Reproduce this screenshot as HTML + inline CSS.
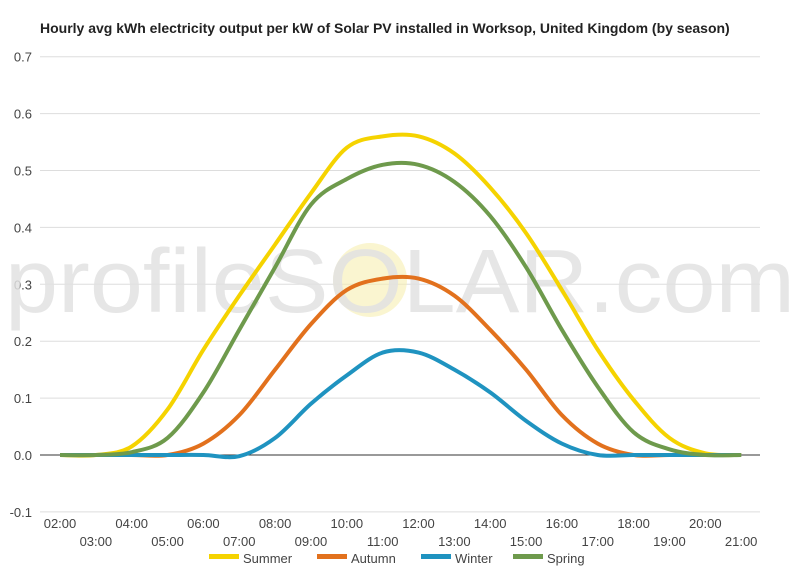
<!DOCTYPE html>
<html><head><meta charset="utf-8"><style>
body{margin:0;background:#fff;font-family:"Liberation Sans",Arial,sans-serif}
svg text{font-family:"Liberation Sans",Arial,sans-serif}
</style></head><body>
<svg id="c" width="800" height="570" xmlns="http://www.w3.org/2000/svg">
<text x="40" y="33" font-size="14" font-weight="bold" fill="#222">Hourly avg kWh electricity output per kW of Solar PV installed in Worksop, United Kingdom (by season)</text>
<g id="grid"></g>
<g>
<circle cx="370" cy="280" r="37" fill="#f7eeb0" opacity="0.6"/>
<text x="5" y="312" font-size="90" fill="#e2e2e2" opacity="0.85" textLength="790" lengthAdjust="spacingAndGlyphs">profileSOLAR.com</text>
</g>
<g id="series"></g>
<g id="xlabels"></g>
<g id="legend"></g>
</svg>
<script>
const hours=["02:00","03:00","04:00","05:00","06:00","07:00","08:00","09:00","10:00","11:00","12:00","13:00","14:00","15:00","16:00","17:00","18:00","19:00","20:00","21:00"];
const yTicks=[0.7,0.6,0.5,0.4,0.3,0.2,0.1,0.0,-0.1];
const summer=[0,0,0.015,0.08,0.185,0.28,0.37,0.46,0.54,0.56,0.56,0.53,0.47,0.39,0.29,0.185,0.097,0.03,0.003,0];
const autumn=[0,0,0,0,0.02,0.07,0.15,0.23,0.29,0.31,0.31,0.28,0.22,0.15,0.07,0.02,0,0,0,0];
const winter=[0,0,0,0,0,-0.002,0.03,0.09,0.14,0.18,0.18,0.15,0.11,0.06,0.02,0,0,0,0,0];
const spring=[0,0,0.005,0.03,0.11,0.22,0.33,0.44,0.485,0.51,0.51,0.48,0.42,0.33,0.22,0.12,0.04,0.01,0,0];
const seriesNames=["Summer","Autumn","Winter","Spring"];
const colors=["#f5d300","#e2711d","#1f93c0","#6e9a4c"];
const allSeries=[summer,autumn,winter,spring];
const ns="http://www.w3.org/2000/svg";
const x=i=>60+i*35.85, y=v=>455-v*569;
function mk(t,a,p){const e=document.createElementNS(ns,t);for(const k in a)e.setAttribute(k,a[k]);p.appendChild(e);return e;}
const grid=document.getElementById('grid');
yTicks.forEach(v=>{
 const l=mk('line',{x1:40,x2:760,y1:y(v),y2:y(v),stroke:v===0?'#333':'#ddd','stroke-width':1},grid);
 
 
 const t=mk('text',{x:32,y:y(v)+5,'font-size':13,fill:'#444','text-anchor':'end'},grid);
 t.textContent=v.toFixed(1);
 
 
});
const xl=document.getElementById('xlabels');
hours.forEach((h,i)=>{
 const t=mk('text',{x:x(i),y:i%2?546:528,'font-size':13,fill:'#444','text-anchor':'middle'},xl);
 t.textContent=h;
 
 
});
function path(d){
 const p=d.map((v,i)=>[x(i),y(v)]);let s=`M${p[0][0]},${p[0][1]}`;
 for(let i=0;i<p.length-1;i++){const p0=p[i-1]||p[i],p1=p[i],p2=p[i+1],p3=p[i+2]||p2;
  s+=`C${p1[0]+(p2[0]-p0[0])/6},${p1[1]+(p2[1]-p0[1])/6} ${p2[0]-(p3[0]-p1[0])/6},${p2[1]-(p3[1]-p1[1])/6} ${p2[0]},${p2[1]}`;}
 return s;}
const sg=document.getElementById('series');
allSeries.forEach((d,k)=>{
 const p=mk('path',{d:path(d),fill:'none',stroke:colors[k],'stroke-width':4,'stroke-linejoin':'round'},sg);
 
 
});
const lg=document.getElementById('legend');
const lx=[209,317,421,513];
seriesNames.forEach((n,k)=>{
 const g=mk('g',{},lg);
 
 
 mk('rect',{x:lx[k],y:554,width:30,height:5,fill:colors[k]},g);
 const t=mk('text',{x:lx[k]+34,y:563,'font-size':13,fill:'#444'},g);t.textContent=n;
});
</script>
</body></html>
